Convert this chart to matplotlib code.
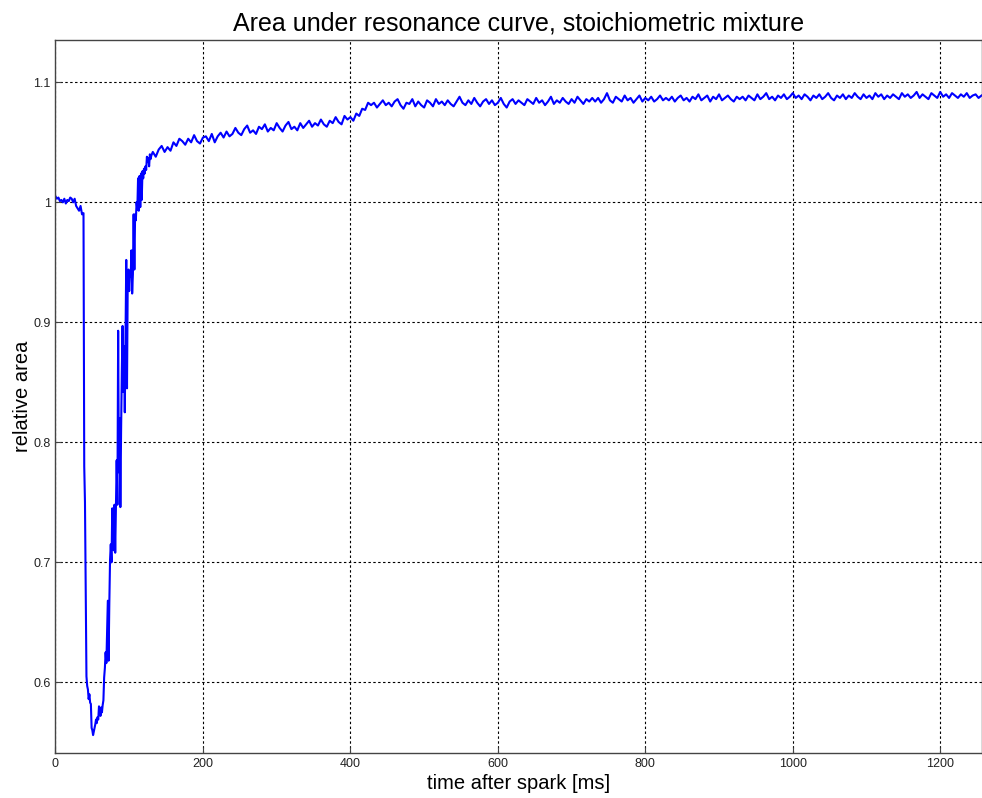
import numpy as np
import matplotlib
matplotlib.use("Agg")
import matplotlib.pyplot as plt

# Pre-ignition baseline, sampled every 2 ms (t = 0 .. 38 ms)
t_pre = np.arange(0, 40, 2)
a_pre = [1.005, 1.003, 1.004, 1.001, 1.002, 1.000, 1.003, 0.999, 1.002, 1.001,
         1.004, 1.003, 1.000, 1.003, 0.997, 0.995, 0.993, 0.997, 0.990, 0.991]

# Dip and recovery, sampled every 1 ms (t = 39 .. 130 ms)
t_dip = np.arange(39, 131, 1)
a_dip = [0.780, 0.750, 0.672, 0.605, 0.597, 0.594, 0.586, 0.590, 0.583, 0.582,
         0.562, 0.560, 0.556, 0.559, 0.562, 0.565, 0.569, 0.566, 0.571, 0.569,
         0.580, 0.578, 0.572, 0.579, 0.575, 0.581, 0.585, 0.604, 0.612, 0.625,
         0.616, 0.643, 0.668, 0.618, 0.665, 0.702, 0.715, 0.700, 0.745, 0.730,
         0.710, 0.748, 0.708, 0.745, 0.785, 0.748, 0.893, 0.775, 0.820, 0.746,
         0.810, 0.860, 0.897, 0.842, 0.880, 0.825, 0.885, 0.952, 0.845, 0.935,
         0.944, 0.926, 0.942, 0.938, 0.960, 0.924, 0.940, 0.990, 0.944, 0.990,
         0.985, 1.000, 0.994, 1.020, 0.993, 1.022, 0.996, 1.024, 1.002, 1.026,
         1.020, 1.028, 1.024, 1.030, 1.027, 1.038, 1.034, 1.037, 1.030, 1.040,
         1.036, 1.039]

# Slow approach to the final level, sampled every 4 ms (t = 132 .. 1256 ms)
t_late = np.arange(132, 1257, 4)
a_late = [
    1.042, 1.038, 1.044, 1.047, 1.042, 1.046, 1.043, 1.050, 1.047, 1.053, 1.051, 1.048, 1.053,
    1.050, 1.056, 1.051, 1.049, 1.054, 1.055, 1.051, 1.057, 1.050, 1.055, 1.058, 1.054,
    1.059, 1.055, 1.057, 1.062, 1.058, 1.056, 1.061, 1.064, 1.058, 1.060, 1.057, 1.063, 1.061,
    1.065, 1.059, 1.062, 1.060, 1.066, 1.062, 1.059, 1.064, 1.067, 1.061, 1.063, 1.060,
    1.066, 1.062, 1.065, 1.068, 1.063, 1.066, 1.064, 1.069, 1.065, 1.063, 1.068, 1.066, 1.071,
    1.067, 1.065, 1.072, 1.069, 1.071, 1.068, 1.074, 1.072, 1.078, 1.077, 1.083, 1.081,
    1.083, 1.079, 1.082, 1.085, 1.081, 1.083, 1.080, 1.084, 1.086, 1.081, 1.078, 1.083, 1.082,
    1.086, 1.080, 1.084, 1.081, 1.079, 1.085, 1.083, 1.080, 1.086, 1.082, 1.084, 1.081,
    1.085, 1.082, 1.080, 1.084, 1.088, 1.083, 1.081, 1.085, 1.082, 1.087, 1.083, 1.080, 1.084,
    1.086, 1.082, 1.085, 1.081, 1.083, 1.087, 1.082, 1.079, 1.084, 1.086, 1.082, 1.085,
    1.083, 1.081, 1.086, 1.084, 1.082, 1.087, 1.083, 1.085, 1.081, 1.084, 1.088, 1.082, 1.085,
    1.083, 1.087, 1.084, 1.082, 1.086, 1.083, 1.088, 1.085, 1.082, 1.086, 1.084, 1.087,
    1.084, 1.087, 1.083, 1.086, 1.091, 1.085, 1.083, 1.088, 1.086, 1.084, 1.089, 1.085, 1.087,
    1.083, 1.086, 1.089, 1.084, 1.087, 1.085, 1.088, 1.084, 1.086, 1.089, 1.085, 1.087,
    1.085, 1.088, 1.084, 1.087, 1.089, 1.085, 1.087, 1.084, 1.088, 1.086, 1.090, 1.085, 1.087,
    1.089, 1.084, 1.088, 1.086, 1.090, 1.085, 1.087, 1.089, 1.086, 1.084, 1.088, 1.086,
    1.088, 1.085, 1.089, 1.087, 1.085, 1.090, 1.086, 1.088, 1.091, 1.086, 1.088, 1.085, 1.089,
    1.087, 1.090, 1.086, 1.088, 1.091, 1.087, 1.089, 1.086, 1.090, 1.088, 1.085, 1.089,
    1.087, 1.090, 1.086, 1.088, 1.091, 1.087, 1.085, 1.089, 1.087, 1.090, 1.086, 1.089, 1.087,
    1.091, 1.088, 1.086, 1.090, 1.087, 1.089, 1.086, 1.091, 1.088, 1.090, 1.086, 1.089,
    1.087, 1.090, 1.088, 1.086, 1.091, 1.088, 1.090, 1.087, 1.089, 1.092, 1.087, 1.090, 1.088,
    1.086, 1.091, 1.089, 1.087, 1.092, 1.088, 1.090, 1.087, 1.091, 1.089, 1.087, 1.090,
    1.088, 1.091, 1.087, 1.089, 1.090, 1.087, 1.089,
]

x_ticks = [0, 200, 400, 600, 800, 1000, 1200]
y_ticks = [0.6, 0.7, 0.8, 0.9, 1.0, 1.1]
y_tick_labels = ["0.6", "0.7", "0.8", "0.9", "1", "1.1"]

t = np.concatenate([t_pre, t_dip, t_late])
area = np.concatenate([a_pre, a_dip, a_late])

plt.rcParams["font.family"] = ["Liberation Sans", "DejaVu Sans"]

fig = plt.figure(figsize=(9.82, 7.98), dpi=100)
ax = fig.add_axes([0.0565, 0.0564, 0.9430, 0.8935])

ax.plot(t, area, color="#0000ff", linewidth=1.5)

ax.set_xlim(0, 1256)
ax.set_ylim(0.5411, 1.1353)
ax.set_xticks(x_ticks)
ax.set_yticks(y_ticks)
ax.set_yticklabels(y_tick_labels)

ax.grid(True, color="black", linestyle=(0, (2.2, 2.2)), linewidth=0.8)
ax.set_axisbelow(True)
ax.tick_params(direction="in", length=4, width=0.8, colors="#444444",
               labelcolor="#222222", labelsize=9, top=False, right=False)

for side in ["left", "bottom", "top", "right"]:
    ax.spines[side].set_color("#444444")
    ax.spines[side].set_linewidth(1.0)

ax.set_title("Area under resonance curve, stoichiometric mixture",
             fontsize=18, pad=7)
ax.set_xlabel("time after spark [ms]", fontsize=14.5, labelpad=3)
ax.set_ylabel("relative area", fontsize=14.5, labelpad=1)

fig.savefig("out.png", dpi=100)
